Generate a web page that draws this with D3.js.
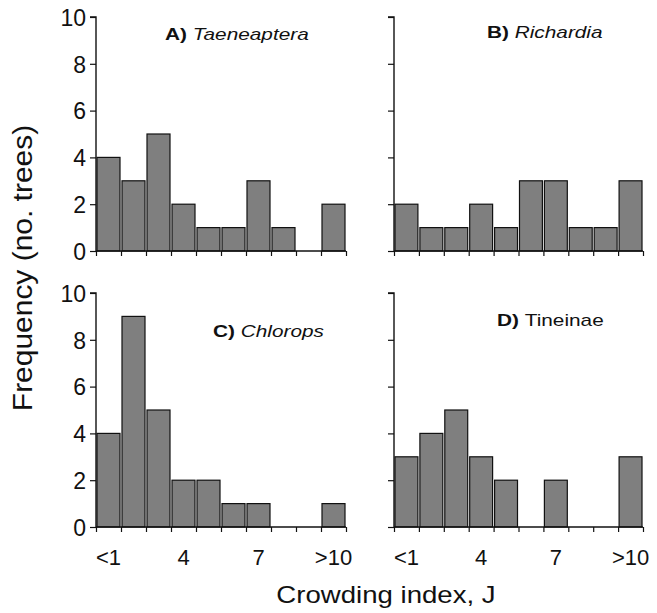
<!DOCTYPE html>
<html><head><meta charset="utf-8">
<script src="https://cdn.jsdelivr.net/npm/d3@7"></script>
<style>body{margin:0;background:#fff}svg{font-family:"Liberation Sans",Arial,sans-serif}</style>
</head><body>
<svg id="c" width="657" height="613"></svg>
<script>
const bins = ["<1","2","3","4","5","6","7","8","9",">10"];
const xTickLabels = {"<1":"<1","4":"4","7":"7",">10":">10"};
const yTicks = [0,2,4,6,8,10];
const taeneaptera = [4,3,5,2,1,1,3,1,0,2];
const richardia = [2,1,1,2,1,3,3,1,1,3];
const chlorops = [4,9,5,2,2,1,1,0,0,1];
const tineinae = [3,4,5,3,2,0,2,0,0,3];
const panels = [
  {letter:"A)", name:"Taeneaptera", italic:true, values:taeneaptera, x0:96, x1:346, y0:251, y1:17, yLabels:true, xLabels:false, tx:165, ty:40},
  {letter:"B)", name:"Richardia", italic:true, values:richardia, x0:394, x1:643, y0:251, y1:17, yLabels:false, xLabels:false, tx:487, ty:38},
  {letter:"C)", name:"Chlorops", italic:true, values:chlorops, x0:96, x1:346, y0:527, y1:293, yLabels:true, xLabels:true, tx:213, ty:337},
  {letter:"D)", name:"Tineinae", italic:false, values:tineinae, x0:394, x1:643, y0:527, y1:293, yLabels:false, xLabels:true, tx:497, ty:326}
];
const svg = d3.select("#c");
panels.forEach(p => {
  const x = d3.scaleBand().domain(bins).range([p.x0, p.x1]).paddingInner(0.08).paddingOuter(0.04);
  const xe = d3.scaleLinear().domain([0, bins.length]).range([p.x0, p.x1]);
  const y = d3.scaleLinear().domain([0,10]).range([p.y0, p.y1]);
  const g = svg.append("g");
  g.selectAll("rect").data(p.values.map((v,i)=>({b:bins[i],v}))).join("rect")
    .filter(d=>d.v>0)
    .attr("x", d=>x(d.b)).attr("width", x.bandwidth())
    .attr("y", d=>y(d.v)).attr("height", d=>y(0)-y(d.v))
    .attr("fill","#7f7f7f").attr("stroke","#111").attr("stroke-width",1.2);
  const ya = d3.axisLeft(y).tickValues(yTicks).tickSize(6).tickPadding(4)
    .tickFormat(p.yLabels ? d3.format("d") : ()=>"");
  const yg = g.append("g").attr("transform",`translate(${p.x0},0)`).call(ya);
  yg.select(".domain").attr("d", `M-6,${p.y1}H0V${p.y0}`).attr("stroke","#111").attr("stroke-width",1.4);
  yg.selectAll(".tick line").attr("stroke","#111").attr("stroke-width",1.2);
  yg.selectAll("text").attr("font-size",23).attr("fill","#111").attr("dy","0.36em");
  const xa = d3.axisBottom(xe).tickValues(d3.range(0, bins.length+1)).tickSize(5).tickFormat(()=>"");
  const xg = g.append("g").attr("transform",`translate(0,${p.y0})`).call(xa);
  xg.select(".domain").attr("d", `M${p.x0},0H${p.x1}`).attr("stroke","#111").attr("stroke-width",1.4);
  xg.selectAll(".tick line").attr("stroke","#111").attr("stroke-width",1.2);
  if (p.xLabels) {
    g.selectAll("text.xl").data(bins.filter(b=>xTickLabels[b])).join("text").attr("class","xl")
      .attr("x", b=>x(b)+x.bandwidth()/2).attr("y", p.y0+38)
      .attr("text-anchor","middle").attr("font-size",22).attr("fill","#111")
      .text(b=>xTickLabels[b]);
  }
  const t = g.append("text").attr("transform",`translate(${p.tx},${p.ty}) scale(1.3,1)`)
    .attr("font-size",16).attr("fill","#111");
  t.append("tspan").attr("font-weight","bold").text(p.letter + " ");
  t.append("tspan").attr("font-style", p.italic ? "italic" : "normal").text(p.name);
});
svg.append("text").attr("transform","translate(32,268) rotate(-90) scale(1.07,1)").attr("text-anchor","middle")
  .attr("font-size",28).attr("fill","#111").text("Frequency (no. trees)");
svg.append("text").attr("transform","translate(386,603) scale(1.2,1)").attr("text-anchor","middle")
  .attr("font-size",23).attr("fill","#111").text("Crowding index, J");
</script>
</body></html>
